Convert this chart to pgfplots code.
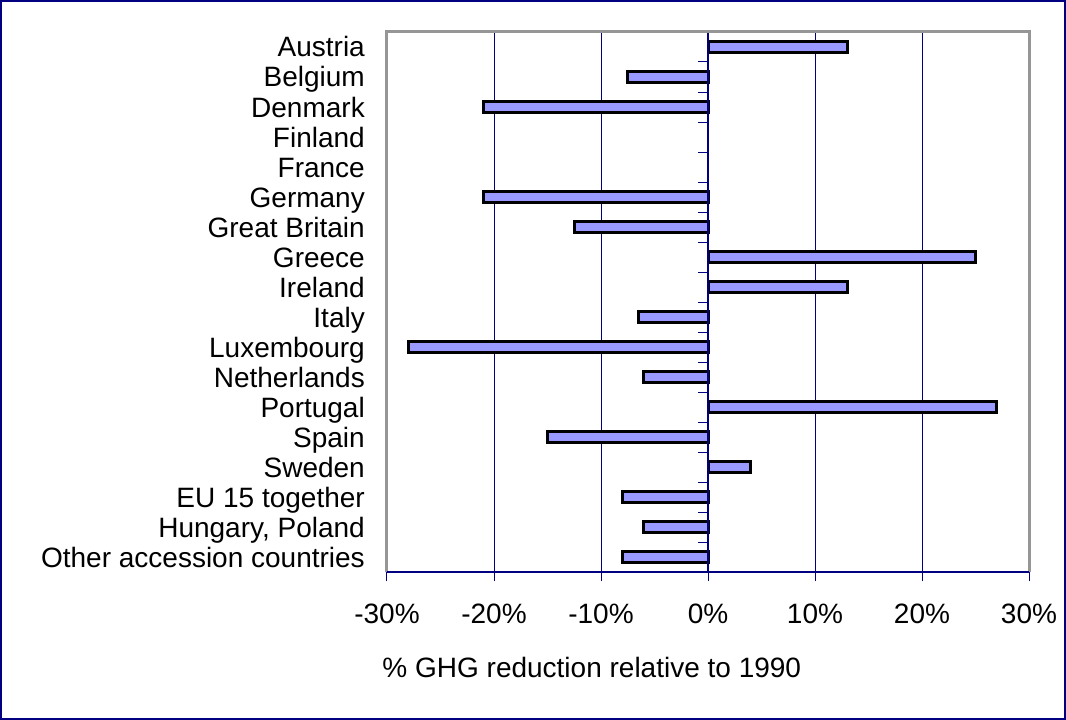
\documentclass[border=0pt]{standalone}
\usepackage{pgfplots}
\pgfplotsset{compat=1.18}
\usepackage{fontspec}
\setmainfont{Liberation Sans}
\definecolor{navy}{RGB}{0,0,128}
\definecolor{barfill}{RGB}{153,153,255}
\definecolor{framegray}{RGB}{150,150,150}
\begin{document}
\fontsize{28pt}{32pt}\selectfont
\begin{tikzpicture}
\useasboundingbox (0,0) rectangle (1066pt,720pt);
\draw[navy, line width=2pt] (1pt,1pt) rectangle (1065pt,719pt);
\begin{axis}[
  at={(387pt,148pt)}, anchor=south west,
  scale only axis, width=642pt, height=540pt,
  xmin=-30, xmax=30, ymin=-0.5, ymax=17.5, y dir=reverse,
  clip=false,
  axis line style={draw=none},
  xtick={-30,-20,...,30},
  xticklabel={\pgfmathprintnumber{\tick}\%},
  /pgf/number format/assume math mode=true,
  ytick={0,...,17},
  yticklabels={Austria,Belgium,Denmark,Finland,France,Germany,Great Britain,Greece,Ireland,Italy,Luxembourg,Netherlands,Portugal,Spain,Sweden,EU 15 together,{Hungary, Poland},Other accession countries},
  ytick style={draw=none},
  xtick style={navy, line width=1pt},
  tick align=outside, xtick pos=bottom, ytick pos=left,
  major tick length=9pt,
  xmajorgrids, grid style={navy, line width=1pt},
  every tick label/.append style={font=\fontsize{28pt}{32pt}\selectfont},
  yticklabel style={inner sep=0pt, text height=20pt, text depth=0pt, xshift=-13pt},
  xticklabel style={inner sep=0pt, text height=20pt, text depth=0pt, yshift=-22pt},
  xlabel={\% GHG reduction relative to 1990},
  xlabel style={font=\fontsize{28pt}{32pt}\selectfont, at={(axis description cs:0.319,-0.176)}, anchor=center},
  xbar, bar width=11pt,
]
\addplot[fill=barfill, draw=black, line width=3pt] coordinates {
  (13,0) (-7.5,1) (-21,2) (-21,5) (-12.5,6) (25,7) (13,8) (-6.5,9)
  (-28,10) (-6,11) (27,12) (-15,13) (4,14) (-8,15) (-6,16) (-8,17)};
\draw[navy, line width=1.5pt] (axis cs:0,-0.5) -- (axis cs:0,17.5);
\pgfplotsinvokeforeach{-0.5,0.5,...,17.5}{\draw[navy, line width=1pt] (axis cs:0,#1) -- ([xshift=-10pt]axis cs:0,#1);}
\draw[framegray, line width=3pt] (axis cs:-30,17.5) -- (axis cs:-30,-0.5) -- (axis cs:30,-0.5) -- (axis cs:30,17.5);
\draw[navy, line width=2pt] (axis cs:-30,17.5) -- (axis cs:30,17.5);
\end{axis}
\end{tikzpicture}
\end{document}
